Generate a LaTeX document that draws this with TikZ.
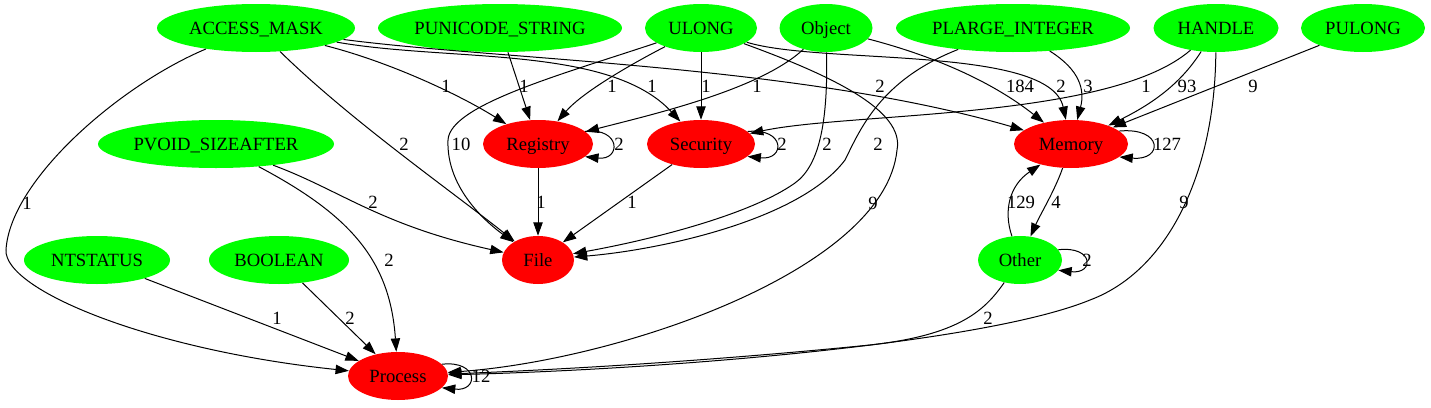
\documentclass[tikz,border=0pt]{standalone}
\usepackage{fontspec}
\setmainfont{Liberation Serif}
\usetikzlibrary{shapes.geometric,arrows.meta}
\definecolor{gvgreen}{RGB}{0,255,0}
\definecolor{gvred}{RGB}{255,0,0}
\newcommand{\ntext}[1]{\makebox[0pt]{#1}}
\begin{document}
\begin{tikzpicture}[x=0.75pt,y=-0.75pt,
  base/.style={ellipse, inner sep=0pt, minimum height=36pt, text height=9.2pt, text depth=0pt, font=\fontsize{14}{16}\selectfont},
  gn/.style={base, fill=gvgreen},
  rn/.style={base, fill=gvred},
  wd/.style={minimum width=#1*0.75pt},
  lbl/.style={inner sep=0pt, text height=9.2pt, text depth=0pt, font=\fontsize{14}{16}\selectfont},
  conn/.style={draw, line width=0.75pt, -{Triangle[length=10pt,width=7pt]}}]
\useasboundingbox (0,0) rectangle (1431,407);
% nodes
\node[gn,wd=198] (AM) at (256,28) {\ntext{ACCESS\_MASK}};
\node[gn,wd=244] (PS) at (500,28) {\ntext{PUNICODE\_STRING}};
\node[gn,wd=112] (UL) at (701,28) {\ntext{ULONG}};
\node[gn,wd=93] (OB) at (826,28) {\ntext{Object}};
\node[gn,wd=234] (PL) at (1013,28) {\ntext{PLARGE\_INTEGER}};
\node[gn,wd=125] (HA) at (1216,28) {\ntext{HANDLE}};
\node[gn,wd=124] (PU) at (1363,28) {\ntext{PULONG}};
\node[gn,wd=236] (PV) at (216,144) {\ntext{PVOID\_SIZEAFTER}};
\node[rn,wd=110] (RE) at (538,144) {\ntext{Registry}};
\node[rn,wd=108] (SE) at (701,144) {\ntext{Security}};
\node[rn,wd=114] (ME) at (1071,144) {\ntext{Memory}};
\node[rn,wd=72] (FI) at (538,260) {\ntext{File}};
\node[gn,wd=146] (NT) at (97,260) {\ntext{NTSTATUS}};
\node[gn,wd=140] (BO) at (279,260) {\ntext{BOOLEAN}};
\node[gn,wd=84] (OT) at (1020,260) {\ntext{Other}};
\node[rn,wd=100] (PR) at (398,376) {\ntext{Process}};
% edges
\draw[conn] (AM) .. controls (120,85) and (10,180) .. (6,250) .. controls (4,290) and (150,350) .. (PR);
\draw[conn] (AM) .. controls (350,120) and (450,190) .. (FI);
\draw[conn] (AM) .. controls (390,62) and (460,95) .. (RE);
\draw[conn] (AM) .. controls (450,62) and (610,45) .. (SE);
\draw[conn] (AM) .. controls (500,60) and (800,65) .. (ME);
\draw[conn] (PS) -- (RE);
\draw[conn] (UL) .. controls (620,70) and (580,95) .. (RE);
\draw[conn] (UL) .. controls (560,75) and (450,105) .. (448,140) .. controls (446,190) and (490,225) .. (FI);
\draw[conn] (UL) -- (SE);
\draw[conn] (UL) .. controls (820,65) and (1050,45) .. (ME);
\draw[conn] (UL) .. controls (830,75) and (905,110) .. (897,150) .. controls (885,270) and (620,360) .. (PR);
\draw[conn] (OB) .. controls (760,90) and (650,115) .. (RE);
\draw[conn] (OB) .. controls (828,120) and (820,165) .. (795,183) .. controls (750,215) and (650,240) .. (FI);
\draw[conn] (OB) .. controls (930,55) and (990,80) .. (ME);
\draw[conn] (PL) .. controls (1080,70) and (1085,90) .. (ME);
\draw[conn] (PL) .. controls (880,80) and (860,130) .. (845,160) .. controls (800,220) and (660,250) .. (FI);
\draw[conn] (HA) .. controls (1110,120) and (850,112) .. (SE);
\draw[conn] (HA) .. controls (1180,85) and (1150,105) .. (ME);
\draw[conn] (HA) .. controls (1215,170) and (1170,270) .. (1090,300) .. controls (980,345) and (650,370) .. (PR);
\draw[conn] (PU) -- (ME);
\draw[conn] (RE) -- (FI);
\draw[conn] (SE) -- (FI);
\draw[conn] (PV) .. controls (340,190) and (380,225) .. (FI);
\draw[conn] (PV) .. controls (350,215) and (390,260) .. (PR);
\draw[conn] (NT) -- (PR);
\draw[conn] (BO) -- (PR);
\draw[conn] (OT) .. controls (985,310) and (960,335) .. (870,345) .. controls (700,362) and (550,370) .. (PR);
\draw[conn] (ME) .. controls (1055,190) and (1040,215) .. (OT);
\draw[conn] (OT) .. controls (1003,210) and (1010,185) .. (ME);
% self loops
\draw[conn] (RE.15) .. controls +(36,-4) and +(36,4) .. (RE.345);
\draw[conn] (SE.15) .. controls +(38,-4) and +(38,4) .. (SE.345);
\draw[conn] (ME.15) .. controls +(44,-4) and +(44,4) .. (ME.345);
\draw[conn] (OT.15) .. controls +(36,-4) and +(36,4) .. (OT.345);
\draw[conn] (PR.15) .. controls +(37,-4) and +(37,4) .. (PR.345);
% labels
\node[lbl] (l1) at (27,203) {1};
\node[lbl] (l2) at (404,144) {2};
\node[lbl] (l3) at (446,86) {1};
\node[lbl] (l4) at (524,86) {1};
\node[lbl] (l5) at (612,86) {1};
\node[lbl] (l6) at (652,86) {1};
\node[lbl] (l7) at (706,86) {1};
\node[lbl] (l8) at (757,86) {1};
\node[lbl] (l9) at (880,86) {2};
\node[lbl] (l10) at (1020,86) {184};
\node[lbl] (l11) at (1061,86) {2};
\node[lbl] (l12) at (1088,86) {3};
\node[lbl] (l13) at (1146,86) {1};
\node[lbl] (l14) at (1187,86) {93};
\node[lbl] (l15) at (1253,86) {9};
\node[lbl] (l16) at (619,144) {2};
\node[lbl] (l17) at (782,144) {2};
\node[lbl] (l18) at (1167,144) {127};
\node[lbl] (l19) at (461,144) {10};
\node[lbl] (l20) at (827,144) {2};
\node[lbl] (l21) at (878,144) {2};
\node[lbl] (l22) at (373,202) {2};
\node[lbl] (l23) at (541,202) {1};
\node[lbl] (l24) at (632,202) {1};
\node[lbl] (l25) at (873,203) {9};
\node[lbl] (l26) at (1021,202) {129};
\node[lbl] (l27) at (1056,202) {4};
\node[lbl] (l28) at (1184,202) {9};
\node[lbl] (l29) at (389,260) {2};
\node[lbl] (l30) at (1087,260) {2};
\node[lbl] (l31) at (277,318) {1};
\node[lbl] (l32) at (350,318) {2};
\node[lbl] (l33) at (988,318) {2};
\node[lbl] (l34) at (481,376) {12};
\end{tikzpicture}
\end{document}
